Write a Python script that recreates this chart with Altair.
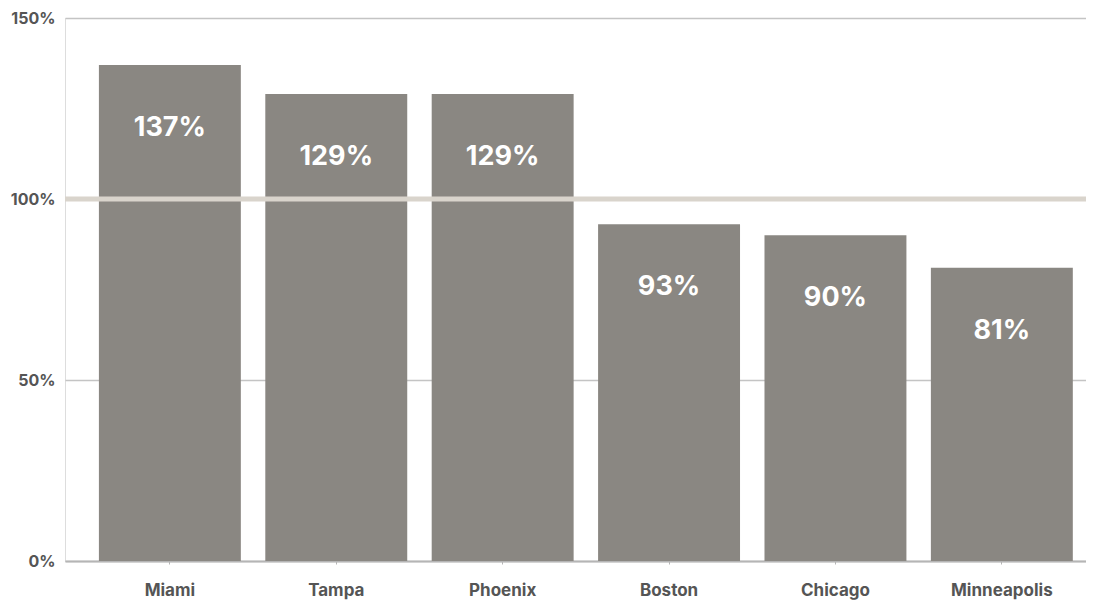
import altair as alt
import pandas as pd

cities = ["Miami", "Tampa", "Phoenix", "Boston", "Chicago", "Minneapolis"]
values = [137, 129, 129, 93, 90, 81]
labels = ["137%", "129%", "129%", "93%", "90%", "81%"]
ref_value = [100]

df = pd.DataFrame({"city": cities, "value": values, "label": labels})
ref = pd.DataFrame({"y": ref_value})

FONT = "Inter"

x = alt.X(
    "city:N",
    sort=cities,
    title=None,
    scale=alt.Scale(paddingInner=0.147, paddingOuter=0.1415, align=0.72),
    axis=alt.Axis(
        labelAngle=0,
        labelFont=FONT,
        labelFontWeight="bold",
        labelFontSize=17,
        labelColor="#555555",
        labelPadding=18,
        domain=True,
        domainColor="#b5b5b5",
        domainWidth=2,
        ticks=True,
        tickSize=3,
        tickColor="#b5b5b5",
        grid=False,
    ),
)

y = alt.Y(
    "value:Q",
    title=None,
    scale=alt.Scale(domain=[0, 150], nice=False),
    axis=alt.Axis(
        values=[0, 50, 100, 150],
        labelExpr="datum.value + '%'",
        labelFont=FONT,
        labelFontWeight="bold",
        labelFontSize=16,
        labelColor="#555555",
        labelPadding=10,
        ticks=False,
        domain=False,
        grid=True,
        gridColor="#c4c4c4",
        gridWidth=1.5,
    ),
)

base = alt.Chart(df).encode(x=x, y=y)

bars = base.mark_bar(color="#8a8782")

text = base.mark_text(
    color="white",
    font=FONT,
    fontWeight="bold",
    fontSize=27,
    baseline="middle",
    dy=63,
).encode(text="label:N")

rule = alt.Chart(ref).mark_rule(color="#d9d4cc", strokeWidth=5).encode(
    y=alt.Y("y:Q"),
)

chart = (
    alt.layer(bars, rule, text)
    .properties(
        width=1021,
        height=543,
        autosize=alt.AutoSizeParams(type="none"),
        padding={"left": 57, "top": 10, "right": 0, "bottom": 40},
    )
    .configure_view(strokeWidth=0, strokeOpacity=0)
    .configure(background="white")
)

chart.save("out.html", embed_options={"renderer": "svg", "actions": False})
